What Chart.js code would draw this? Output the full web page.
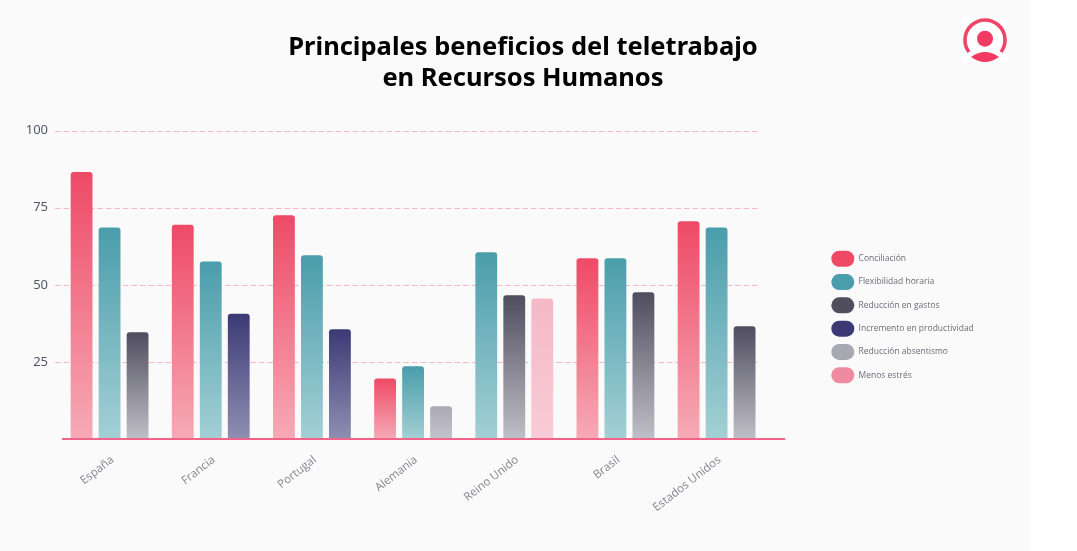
<!DOCTYPE html>
<html lang="es">
<head>
<meta charset="utf-8">
<style>
html,body{margin:0;padding:0;background:#fff;width:1077px;height:551px;overflow:hidden}
#bg{position:absolute;left:0;top:0;width:1030px;height:551px;background:#fafafa}
canvas{position:absolute;left:0;top:0}
#logo{position:absolute;left:963px;top:18px;width:44px;height:44px;background:#fff}
</style>
<script src="https://cdn.jsdelivr.net/npm/chart.js@4"></script>
</head>
<body>
<div id="bg"></div>
<canvas id="c" width="1046" height="551"></canvas>
<svg id="logo" viewBox="0 0 44 44">
  <path d="M6 34 A20 20 0 1 1 38 34" fill="none" stroke="#ef4468" stroke-width="3.6" stroke-linecap="butt"/>
  <circle cx="22" cy="20.7" r="8" fill="#f33a63"/>
  <path d="M8 39 Q22 29 36 39 Q22 49 8 39Z" fill="#f33a63"/>
</svg>
<script>
const categories = ['España','Francia','Portugal','Alemania','Reino Unido','Brasil','Estados Unidos'];
const seriesNames = ['Conciliación','Flexibilidad horaria','Reducción en gastos','Incremento en productividad','Reducción absentismo','Menos estrés'];
const conciliacion   = [86.6,69.5,72.6,19.6,null,58.6,70.6];
const flexibilidad   = [68.6,57.6,59.6,23.6,60.6,58.6,68.6];
const gastos         = [34.6,null,null,null,46.6,47.6,36.6];
const productividad  = [null,40.6,35.6,null,null,null,null];
const absentismo     = [null,null,null,10.6,null,null,null];
const estres         = [null,null,null,null,45.6,null,null];
const seriesValues = [conciliacion,flexibilidad,gastos,productividad,absentismo,estres];
const topColors    = ['#ee4a66','#4a9dab','#4f4d5e','#3c3a75','#aaa9b4','#f5b8c6'];
const bottomColors = ['#f6aab6','#a3d0d5','#c0bfc7','#8f8fb2','#c4c3cc','#f7ccd6'];
const legendColors = ['#ee4a66','#4a9dab','#4f4d5e','#3c3a75','#a8a8b2','#ef8aa0'];
const yTicks = [25,50,75,100];

function barGradient(i){
  return function(ctx){
    const chart = ctx.chart, y = chart.scales.y;
    if(!y || ctx.raw == null) return topColors[i];
    const g = chart.ctx.createLinearGradient(0,y.getPixelForValue(ctx.raw),0,y.getPixelForValue(0));
    g.addColorStop(0,topColors[i]);
    g.addColorStop(1,bottomColors[i]);
    return g;
  };
}

const decor = {
  id:'decor',
  afterLayout(chart){
    const l = chart.legend;
    const w = l.right - l.left;
    l.left = 824; l.right = 824 + w;
    l.top += 83;
  },
  beforeDatasetsDraw(chart){
    const {ctx,chartArea:a,scales:{y}} = chart;
    ctx.save();
    ctx.strokeStyle='#f7b5c6'; ctx.lineWidth=1; ctx.setLineDash([5.5,3]);
    yTicks.forEach(v=>{
      const p=Math.round(y.getPixelForValue(v))+0.5;
      ctx.beginPath(); ctx.moveTo(a.left-4,p); ctx.lineTo(a.right-9,p); ctx.stroke();
    });
    ctx.restore();
  },
  afterDatasetsDraw(chart){
    const {ctx,chartArea:a,scales:{y}} = chart;
    const p=y.getPixelForValue(0);
    ctx.save();
    ctx.strokeStyle='#f0648a'; ctx.lineWidth=2;
    ctx.beginPath(); ctx.moveTo(a.left+3,p); ctx.lineTo(a.right+18,p); ctx.stroke();
    ctx.restore();
  }
};

new Chart(document.getElementById('c'),{
  type:'bar',
  data:{
    labels:categories,
    datasets:seriesNames.map((n,i)=>({
      label:n,
      data:seriesValues[i],
      backgroundColor:barGradient(i),
      skipNull:true,
      borderRadius:{topLeft:3,topRight:3,bottomLeft:0,bottomRight:0},
      borderSkipped:false,
      categoryPercentage:0.83,
      barPercentage:0.78
    }))
  },
  plugins:[decor],
  options:{
    responsive:false,
    animation:false,
    layout:{padding:0},
    plugins:{
      title:{
        display:true,
        text:['Principales beneficios del teletrabajo','en Recursos Humanos'],
        color:'#000',
        font:{family:'"Noto Sans"',size:25.5,weight:'700',lineHeight:1.21},
        padding:{top:32,bottom:37}
      },
      tooltip:{enabled:false},
      legend:{
        position:'right',
        align:'center',
        labels:{
          boxWidth:23,boxHeight:16,padding:7.3,
          useBorderRadius:true,borderRadius:8,
          color:'#6c6c7a',
          font:{family:'"Open Sans"',size:8.5},
          generateLabels:()=>seriesNames.map((n,i)=>({
            text:n,fillStyle:legendColors[i],strokeStyle:legendColors[i],lineWidth:0,
            borderRadius:8,datasetIndex:i,hidden:false,fontColor:'#6c6c7a'
          }))
        }
      }
    },
    scales:{
      x:{
        grid:{display:false},
        border:{display:false},
        afterFit(s){s.height=112;},
        ticks:{autoSkip:false,minRotation:38,maxRotation:38,padding:6,labelOffset:3,color:'#85858f',
               font:{family:'"Open Sans"',size:11.5}}
      },
      y:{
        min:0,max:100,
        grid:{display:false},
        border:{display:false},
        afterFit(s){s.width=59;},
        afterBuildTicks(s){s.ticks=[0,...yTicks].map(v=>({value:v}));},
        ticks:{padding:3,color:'#55556a',font:{family:'"Noto Sans"',size:13},
               callback:v=>yTicks.includes(v)?v:''}
      },
      spacer:{
        position:'right',
        display:true,
        min:0,max:1,
        grid:{display:false},
        border:{display:false},
        ticks:{display:false},
        afterFit(s){s.width=119;}
      }
    }
  }
});
</script>
</body>
</html>
